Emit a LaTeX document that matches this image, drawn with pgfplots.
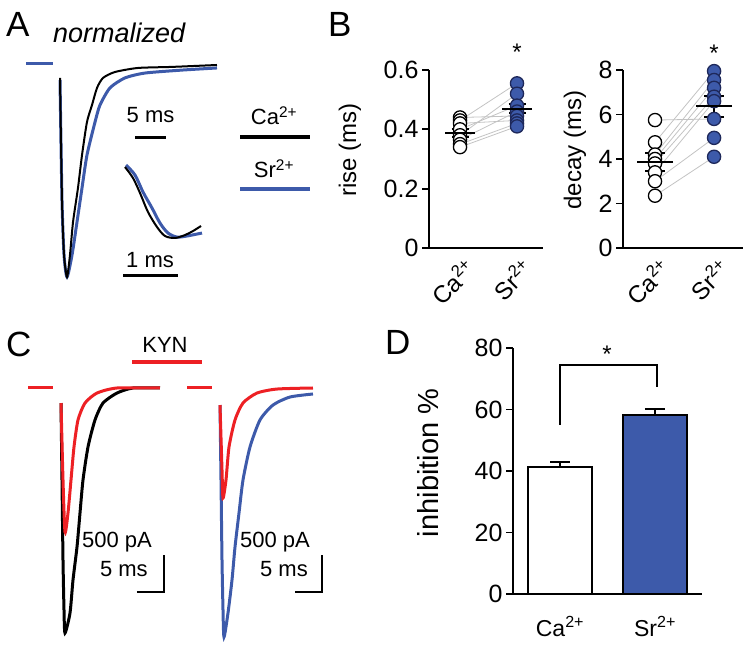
\documentclass[border=0pt]{standalone}
\usepackage{fontspec}
\setmainfont{Liberation Sans}
\usepackage{pgfplots}
\pgfplotsset{compat=1.18}

\definecolor{sblue}{RGB}{61,90,170}
\definecolor{sbluedk}{RGB}{30,40,90}
\definecolor{kred}{RGB}{237,32,36}
\definecolor{pairgray}{RGB}{195,195,195}

\newcommand{\fs}[1]{\fontsize{#1}{#1}\selectfont}
\newcommand{\Ca}{Ca\textsuperscript{2+}}
\newcommand{\Sr}{Sr\textsuperscript{2+}}

\pgfplotsset{
  trace/.style={scale only axis, hide axis, clip=false, anchor=south west},
  dots/.style={scale only axis, anchor=south west, clip=false,
    axis lines=left, axis line style={-, line width=1.8pt},
    tick align=outside, major tick length=7pt,
    ytick style={line width=1.8pt, black}, xtick style={draw=none},
    ymin=0, xtick={0,1}, xticklabels={\Ca,\Sr},
    tick label style={font=\fs{25}},
    /pgf/number format/assume math mode=true,
    xticklabel style={font=\fs{24}, inner sep=0pt, xshift=11pt, yshift=-9pt, rotate=45, anchor=east},
    ylabel style={font=\fs{24}, anchor=center}},
  pair/.style={pairgray, line width=0.8pt},
  ca/.style={only marks, mark=*, mark size=6.6pt,
    mark options={fill=white, draw=black, line width=1.3pt}},
  sr/.style={only marks, mark=*, mark size=6.6pt,
    mark options={fill=sblue, draw=sbluedk, line width=1.3pt}},
  msem/.style 2 args={only marks, mark=-, mark size=#1,
    mark options={line width=2pt, black},
    error bars/y dir=both, error bars/y explicit,
    error bars/error bar style={line width=2pt, black},
    error bars/error mark options={rotate=90, line width=2pt, black, mark size=#2}},
}

\begin{document}
\begin{tikzpicture}

% ---- A: normalized EPSCs (time in ms, amplitude normalized)
\begin{axis}[trace, at={(22.8pt,359.4pt)}, width=198.4pt, height=243.8pt,
  xmin=-6, xmax=26, ymin=-1.05, ymax=0.1]
\addplot[sblue, line width=3pt] coordinates {(-5.48,0.005) (-1.13,0.005)};
\addplot[sblue, line width=3pt, smooth, tension=0.4] coordinates {
  (0,-0.071) (0.32,-0.637) (0.65,-0.896) (1.13,-1) (1.94,-0.896) (2.74,-0.741)
  (3.55,-0.580) (4.35,-0.425) (5.65,-0.269) (6.45,-0.189) (8.06,-0.108)
  (10.48,-0.061) (13.71,-0.038) (19.68,-0.024) (25.32,-0.014)};
\addplot[black, line width=2pt, smooth, tension=0.4] coordinates {
  (0,-0.061) (0.32,-0.637) (0.65,-0.896) (1.13,-1) (1.61,-0.896) (2.10,-0.741)
  (2.90,-0.580) (3.55,-0.425) (4.35,-0.269) (5.16,-0.189) (5.97,-0.108)
  (6.94,-0.061) (8.87,-0.033) (12.58,-0.014) (18.06,-0.009) (25.32,0)};
\draw[line width=3pt] (axis cs:12.1,-0.34) -- (axis cs:17.1,-0.34);
\node[anchor=base, inner sep=0, font=\fs{22}] at (axis cs:14.6,-0.269) {5 ms};
\end{axis}

% ---- A inset: rising phase
\begin{axis}[trace, at={(97.5pt,361pt)}, width=115.5pt, height=132pt,
  xmin=-0.5, xmax=1.6, ymin=-1.6, ymax=0.05]
\addplot[sblue, line width=3pt, smooth, tension=0.5] coordinates {
  (0.018,-0.088) (0.182,-0.213) (0.327,-0.425) (0.491,-0.625) (0.636,-0.813)
  (0.782,-0.938) (0.945,-0.988) (1.127,-0.975) (1.4,-0.938)};
\addplot[black, line width=2pt, smooth, tension=0.5] coordinates {
  (0,-0.113) (0.145,-0.25) (0.273,-0.438) (0.418,-0.675) (0.582,-0.863)
  (0.727,-0.975) (0.909,-1) (1.091,-0.963) (1.236,-0.913) (1.382,-0.85)};
\draw[line width=3pt] (axis cs:-0.036,-1.475) -- (axis cs:0.964,-1.475);
\node[anchor=base, inner sep=0, font=\fs{22}] at (axis cs:0.455,-1.375) {1 ms};
\end{axis}

% ---- B: rise time
\begin{axis}[dots, at={(429pt,399pt)}, width=114pt, height=178pt,
  xmin=-0.544, xmax=1.456, ymax=0.6, ytick={0,0.2,0.4,0.6},
  ylabel={rise (ms)}, ylabel style={at={(axis description cs:-0.693,0.55)}}]
\addplot[pair] coordinates {(0,0.44) (1,0.445)};
\addplot[pair] coordinates {(0,0.43) (1,0.555)};
\addplot[pair] coordinates {(0,0.42) (1,0.43)};
\addplot[pair] coordinates {(0,0.40) (1,0.48)};
\addplot[pair] coordinates {(0,0.38) (1,0.52)};
\addplot[pair] coordinates {(0,0.365) (1,0.46)};
\addplot[pair] coordinates {(0,0.35) (1,0.42)};
\addplot[pair] coordinates {(0,0.34) (1,0.41)};
\addplot[ca] coordinates {(0,0.44) (0,0.43) (0,0.42) (0,0.40) (0,0.38) (0,0.365) (0,0.35) (0,0.34)};
\addplot[sr] coordinates {(1,0.555) (1,0.52) (1,0.48) (1,0.46) (1,0.445) (1,0.43) (1,0.42) (1,0.41)};
\addplot[msem={15pt}{8.5pt}] coordinates {(0,0.387) +- (0,0.013)};
\addplot[msem={15pt}{8.5pt}] coordinates {(1,0.470) +- (0,0.015)};
\node[anchor=base, inner sep=0, font=\fs{24}] at (axis cs:1,0.6) [yshift=9pt] {*};
\end{axis}

% ---- B: decay time
\begin{axis}[dots, at={(623pt,399pt)}, width=120pt, height=178pt,
  xmin=-0.542, xmax=1.49, ymax=8, ytick={0,2,4,6,8},
  ylabel={decay (ms)}, ylabel style={at={(axis description cs:-0.40,0.55)}}]
\addplot[pair] coordinates {(0,5.75) (1,5.8)};
\addplot[pair] coordinates {(0,4.75) (1,7.95)};
\addplot[pair] coordinates {(0,4.2) (1,7.55)};
\addplot[pair] coordinates {(0,4.0) (1,7.2)};
\addplot[pair] coordinates {(0,3.8) (1,6.8)};
\addplot[pair] coordinates {(0,3.4) (1,6.6)};
\addplot[pair] coordinates {(0,3.0) (1,4.95)};
\addplot[pair] coordinates {(0,2.35) (1,4.1)};
\addplot[ca] coordinates {(0,5.75) (0,4.75) (0,4.2) (0,4.0) (0,3.8) (0,3.4) (0,3.0) (0,2.35)};
\addplot[sr] coordinates {(1,7.95) (1,7.55) (1,7.2) (1,6.8) (1,6.6) (1,5.8) (1,4.95) (1,4.1)};
\addplot[msem={18pt}{10pt}] coordinates {(0,3.87) +- (0,0.42)};
\addplot[msem={18pt}{10pt}] coordinates {(1,6.38) +- (0,0.47)};
\node[anchor=base, inner sep=0, font=\fs{24}] at (axis cs:1,8) [yshift=9pt] {*};
\end{axis}

% ---- C: Ca2+ with KYN (time in ms, current in pA)
\begin{axis}[trace, at={(20.5pt,0pt)}, width=148.5pt, height=296pt,
  xmin=-7.5, xmax=20, ymin=-3500, ymax=500]
\addplot[kred, line width=3pt] coordinates {(-6.11,0) (-1.48,0)};
\addplot[black, line width=3pt, smooth, tension=0.4] coordinates {
  (0,-203) (0.185,-1243) (0.37,-2324) (0.556,-3000) (0.741,-3311) (1.667,-3041)
  (2.222,-2595) (2.963,-2149) (3.519,-1689) (4.074,-1243) (5.0,-797) (6.296,-432)
  (7.778,-203) (10.37,-68) (13.33,0) (18.33,0)};
\addplot[kred, line width=3pt, smooth, tension=0.4] coordinates {
  (0,-203) (0.37,-1243) (0.741,-1946) (1.296,-1689) (1.852,-1243) (2.407,-797)
  (3.148,-432) (4.444,-203) (6.667,-68) (10.37,0) (18.33,0)};
\draw[line width=2.5pt] (axis cs:14.07,-2757) -- (axis cs:19.07,-2757) -- (axis cs:19.07,-2257);
\node[anchor=base east, inner sep=0, font=\fs{22}] at (axis cs:16.85,-2162) {500 pA};
\node[anchor=base east, inner sep=0, font=\fs{22}] at (axis cs:16.1,-2554) {5 ms};
\end{axis}

% ---- C: Sr2+ with KYN
\begin{axis}[trace, at={(179.5pt,0pt)}, width=151.2pt, height=296pt,
  xmin=-7.5, xmax=20.5, ymin=-3500, ymax=500]
\addplot[kred, line width=3pt] coordinates {(-6.11,0) (-1.48,0)};
\addplot[sblue, line width=3pt, smooth, tension=0.4] coordinates {
  (0,-230) (0.185,-1243) (0.37,-2324) (0.556,-3000) (0.741,-3365) (1.481,-3041)
  (2.222,-2595) (2.778,-2149) (3.519,-1689) (4.259,-1243) (5.556,-797) (7.407,-432)
  (9.815,-230) (12.96,-122) (17.22,-81)};
\addplot[kred, line width=3pt, smooth, tension=0.4] coordinates {
  (0,-230) (0.37,-1108) (0.556,-1486) (1.111,-1243) (1.667,-797) (2.778,-432)
  (4.259,-203) (6.852,-68) (10.56,-14) (17.22,0)};
\draw[line width=2.5pt] (axis cs:13.89,-2757) -- (axis cs:18.89,-2757) -- (axis cs:18.89,-2257);
\node[anchor=base east, inner sep=0, font=\fs{22}] at (axis cs:16.67,-2162) {500 pA};
\node[anchor=base east, inner sep=0, font=\fs{22}] at (axis cs:16.3,-2554) {5 ms};
\end{axis}

% ---- D: inhibition by KYN
\begin{axis}[scale only axis, anchor=south west, clip=false, at={(513pt,53pt)},
  width=189pt, height=246pt, xmin=-0.495, xmax=1.495, ymin=0, ymax=80,
  axis lines=left, axis line style={-, line width=1.8pt},
  tick align=outside, major tick length=7pt,
  ytick style={line width=1.8pt, black}, xtick style={draw=none},
  ytick={0,20,40,60,80}, xtick={0,1}, xticklabels={\Ca,\Sr},
  tick label style={font=\fs{25}}, xticklabel style={font=\fs{23}, yshift=-12pt},
  /pgf/number format/assume math mode=true,
  ylabel={inhibition \%},
  ylabel style={font=\fs{29}, anchor=center, at={(axis description cs:-0.45,0.533)}}]
\addplot[ybar, bar width=64pt, bar shift=0pt, fill=white, draw=black, line width=1.8pt,
  error bars/y dir=plus, error bars/y explicit, error bars/error bar style={line width=1.8pt},
  error bars/error mark options={rotate=90, line width=1.8pt, mark size=10pt}]
  coordinates {(0,41.3) +- (0,1.6)};
\addplot[ybar, bar width=64pt, bar shift=0pt, fill=sblue, draw=black, line width=1.8pt,
  error bars/y dir=plus, error bars/y explicit, error bars/error bar style={line width=1.8pt},
  error bars/error mark options={rotate=90, line width=1.8pt, mark size=10pt}]
  coordinates {(1,58.2) +- (0,2.0)};
\draw[line width=1.5pt] (axis cs:0,55) -- (axis cs:0,74.5) -- (axis cs:1.02,74.5) -- (axis cs:1.02,67.3);
\node[font=\fs{24}] at (axis cs:0.495,78) {*};
\end{axis}

% ---- panel letters and free labels
\node[anchor=base west, inner sep=0, font=\fs{35}] at (6pt,610pt) {A};
\node[anchor=base west, inner sep=0, font=\fs{27}\itshape] at (53pt,604pt) {normalized};
\node[anchor=base west, inner sep=0, font=\fs{35}] at (328pt,610pt) {B};
\node[anchor=base west, inner sep=0, font=\fs{35}] at (6pt,290pt) {C};
\node[anchor=base west, inner sep=0, font=\fs{35}] at (385pt,292pt) {D};
\node[anchor=base, inner sep=0, font=\fs{22}] at (274pt,522pt) {\Ca};
\draw[line width=4pt] (240pt,510pt) -- (310pt,510pt);
\node[anchor=base, inner sep=0, font=\fs{22}] at (274pt,469pt) {\Sr};
\draw[sblue, line width=4pt] (240pt,458pt) -- (310pt,458pt);
\node[anchor=base, inner sep=0, font=\fs{22}] at (165pt,294pt) {KYN};
\draw[kred, line width=4pt] (132pt,285pt) -- (202pt,285pt);

\pgfresetboundingbox
\path[use as bounding box] (0pt,0pt) rectangle (751pt,647pt);
\end{tikzpicture}
\end{document}
